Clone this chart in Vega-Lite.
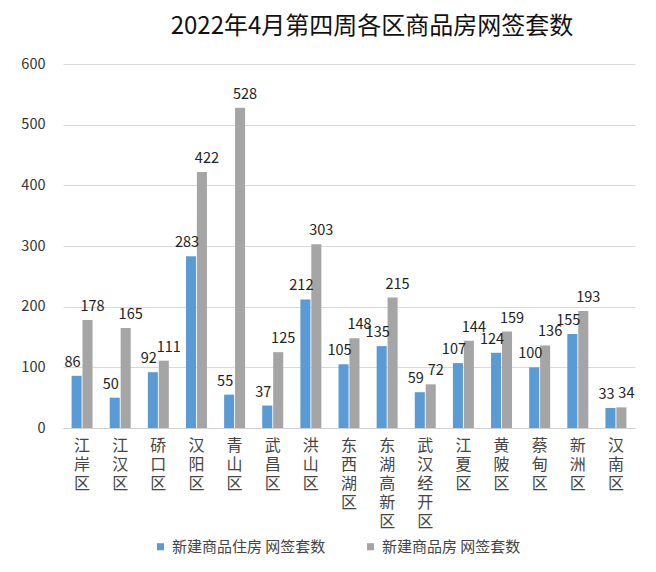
{
  "$schema": "https://vega.github.io/schema/vega-lite/v6.json",
  "width": 572,
  "height": 364,
  "autosize": {"type": "none"},
  "padding": {"left": 63, "top": 64, "right": 21, "bottom": 144},
  "background": "white",
  "title": {
    "text": "2022年4月第四周各区商品房网签套数",
    "fontSize": 24,
    "font": "Noto Sans CJK SC",
    "fontWeight": "normal",
    "color": "#111111",
    "anchor": "middle",
    "dx": 23,
    "offset": 17
  },
  "config": {
    "view": {"stroke": null},
    "font": "Noto Sans CJK SC"
  },
  "data": {
    "values": [
      {"district": "江岸区", "series": "新建商品住房 网签套数", "value": 86},
      {"district": "江汉区", "series": "新建商品住房 网签套数", "value": 50},
      {"district": "硚口区", "series": "新建商品住房 网签套数", "value": 92},
      {"district": "汉阳区", "series": "新建商品住房 网签套数", "value": 283},
      {"district": "青山区", "series": "新建商品住房 网签套数", "value": 55},
      {"district": "武昌区", "series": "新建商品住房 网签套数", "value": 37},
      {"district": "洪山区", "series": "新建商品住房 网签套数", "value": 212},
      {"district": "东西湖区", "series": "新建商品住房 网签套数", "value": 105},
      {"district": "东湖高新区", "series": "新建商品住房 网签套数", "value": 135},
      {"district": "武汉经开区", "series": "新建商品住房 网签套数", "value": 59},
      {"district": "江夏区", "series": "新建商品住房 网签套数", "value": 107},
      {"district": "黄陂区", "series": "新建商品住房 网签套数", "value": 124},
      {"district": "蔡甸区", "series": "新建商品住房 网签套数", "value": 100},
      {"district": "新洲区", "series": "新建商品住房 网签套数", "value": 155},
      {"district": "汉南区", "series": "新建商品住房 网签套数", "value": 33},
      {"district": "江岸区", "series": "新建商品房 网签套数", "value": 178},
      {"district": "江汉区", "series": "新建商品房 网签套数", "value": 165},
      {"district": "硚口区", "series": "新建商品房 网签套数", "value": 111},
      {"district": "汉阳区", "series": "新建商品房 网签套数", "value": 422},
      {"district": "青山区", "series": "新建商品房 网签套数", "value": 528},
      {"district": "武昌区", "series": "新建商品房 网签套数", "value": 125},
      {"district": "洪山区", "series": "新建商品房 网签套数", "value": 303},
      {"district": "东西湖区", "series": "新建商品房 网签套数", "value": 148},
      {"district": "东湖高新区", "series": "新建商品房 网签套数", "value": 215},
      {"district": "武汉经开区", "series": "新建商品房 网签套数", "value": 72},
      {"district": "江夏区", "series": "新建商品房 网签套数", "value": 144},
      {"district": "黄陂区", "series": "新建商品房 网签套数", "value": 159},
      {"district": "蔡甸区", "series": "新建商品房 网签套数", "value": 136},
      {"district": "新洲区", "series": "新建商品房 网签套数", "value": 193},
      {"district": "汉南区", "series": "新建商品房 网签套数", "value": 34}
    ]
  },
  "encoding": {
    "x": {
      "field": "district",
      "type": "nominal",
      "sort": ["江岸区","江汉区","硚口区","汉阳区","青山区","武昌区","洪山区","东西湖区","东湖高新区","武汉经开区","江夏区","黄陂区","蔡甸区","新洲区","汉南区"],
      "scale": {"paddingInner": 0.45, "paddingOuter": 0.225},
      "axis": {
        "title": null,
        "labelAngle": 0,
        "labelExpr": "split(datum.label, '')",
        "labelFontSize": 16,
        "labelLineHeight": 19,
        "labelColor": "#444444",
        "labelPadding": 9,
        "labelBaseline": "top",
        "labelOverlap": false,
        "ticks": false,
        "domainColor": "#d0d0d0",
        "domainWidth": 1
      }
    },
    "xOffset": {
      "field": "series",
      "type": "nominal",
      "sort": ["新建商品住房 网签套数", "新建商品房 网签套数"],
      "scale": {"paddingInner": 0.08}
    },
    "y": {
      "field": "value",
      "type": "quantitative",
      "scale": {"domain": [0, 600]},
      "axis": {
        "title": null,
        "values": [0,100,200,300,400,500,600],
        "labelFontSize": 14.5,
        "labelColor": "#333333",
        "labelPadding": 18,
        "ticks": false,
        "domain": false,
        "gridColor": "#d9d9d9",
        "gridWidth": 1
      }
    }
  },
  "layer": [
    {
      "mark": {"type": "bar"},
      "encoding": {
        "color": {
          "field": "series",
          "type": "nominal",
          "sort": ["新建商品住房 网签套数", "新建商品房 网签套数"],
          "scale": {"domain": ["新建商品住房 网签套数", "新建商品房 网签套数"], "range": ["#5b9bd5", "#a5a5a5"]},
          "legend": {
            "title": null,
            "orient": "none",
            "direction": "horizontal",
            "legendX": 90,
            "legendY": 475,
            "symbolType": "square",
            "symbolSize": 50,
            "symbolStrokeWidth": 0,
            "labelFontSize": 15,
            "labelColor": "#444444",
            "columnPadding": 37,
            "labelOffset": 4
          }
        }
      }
    },
    {
      "transform": [{"filter": "datum.series === '新建商品住房 网签套数'"}],
      "mark": {"type": "text", "baseline": "bottom", "dy": -6, "dx": -4, "fontSize": 14.5, "color": "#222222"},
      "encoding": {
        "text": {"field": "value", "type": "quantitative"}
      }
    },
    {
      "transform": [{"filter": "datum.series === '新建商品房 网签套数'"}],
      "mark": {"type": "text", "baseline": "bottom", "dy": -6, "dx": 5, "fontSize": 14.5, "color": "#222222"},
      "encoding": {
        "text": {"field": "value", "type": "quantitative"}
      }
    }
  ]
}
